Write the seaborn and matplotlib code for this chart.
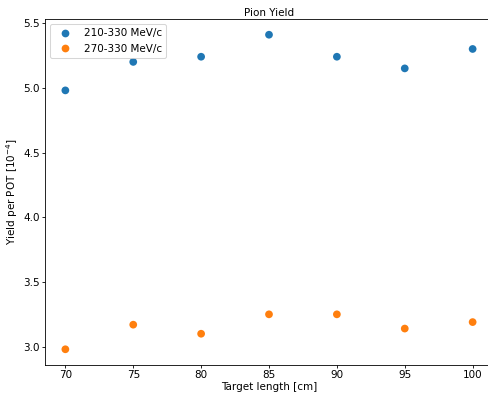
import matplotlib
matplotlib.use("Agg")
import matplotlib.pyplot as plt
import seaborn as sns
import pandas as pd

lengths = [70, 75, 80, 85, 90, 95, 100]
yield_210_330 = [4.98, 5.20, 5.24, 5.41, 5.24, 5.15, 5.30]
yield_270_330 = [2.98, 3.17, 3.10, 3.25, 3.25, 3.14, 3.19]
series_names = ["210-330 MeV/c", "270-330 MeV/c"]

df = pd.DataFrame({
    "length": lengths * 2,
    "yield": yield_210_330 + yield_270_330,
    "series": [series_names[0]] * len(lengths) + [series_names[1]] * len(lengths),
})

DPI = 75
fig = plt.figure(figsize=(488 / DPI, 393 / DPI), dpi=DPI)
ax = fig.add_axes([45/488, 28/393, 448/488, 346/393])
sns.scatterplot(data=df, x="length", y="yield", hue="series",
                palette=["#1f77b4", "#ff7f0e"], s=55, linewidth=0, ax=ax)
ax.set_title("Pion Yield", fontsize=10, pad=3)
ax.set_xlabel("Target length [cm]", fontsize=10, labelpad=1.5)
ax.set_ylabel("Yield per POT [$10^{-4}$]", fontsize=10, labelpad=3)
ax.tick_params(labelsize=10, length=2.6, pad=2.2, width=0.8)
ax.set_xticks(lengths)
ax.legend(loc="upper left", fontsize=10, title=None)
fig.savefig("out.png", dpi=DPI)
